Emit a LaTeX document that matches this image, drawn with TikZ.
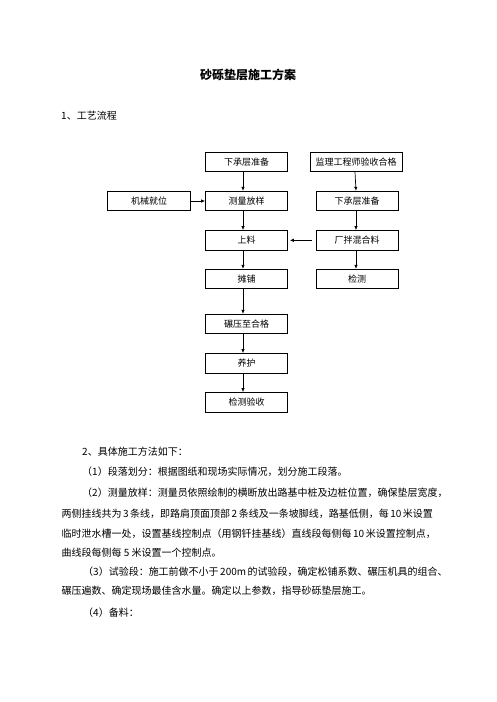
\documentclass[tikz,border=0pt]{standalone}
\usepackage{fontspec}
\newfontfamily\cjk{Noto Sans CJK SC}
\usepackage{tikz}
\usetikzlibrary{arrows.meta}
\XeTeXlinebreaklocale "zh"
\XeTeXlinebreakskip = 0pt plus 1pt

\begin{document}
\begin{tikzpicture}[x=1pt, y=-1pt,
  box/.style={draw, line width=0.8pt, minimum width=82pt, minimum height=19.5pt, inner sep=0pt, font=\cjk\fontsize{9}{10}\selectfont},
  txt/.style={anchor=west, inner sep=0pt, font=\cjk\fontsize{10}{12}\selectfont},
  flow/.style={-{Latex[length=4pt, width=3.5pt]}, line width=0.7pt}]
  \useasboundingbox (0, 0) rectangle (496, 702);

  % title and heading
  \node[font=\cjk\bfseries\fontsize{12}{14}\selectfont] (title) at (248, 75) {砂砾垫层施工方案};
  \node[txt] (head1) at (61, 116) {1、工艺流程};

  % flow chart
  \node[box] (prep) at (246.5, 162) {下承层准备};
  \node[box, minimum width=92pt] (check) at (356, 162) {监理工程师验收合格};
  \node[box, minimum width=83pt] (mach) at (149, 201) {机械就位};
  \node[box] (survey) at (246.5, 201) {测量放样};
  \node[box] (prep2) at (357, 201) {下承层准备};
  \node[box] (feed) at (246.5, 240.3) {上料};
  \node[box] (mix) at (357, 240.3) {厂拌混合料};
  \node[box] (spread) at (246.5, 279) {摊铺};
  \node[box] (test) at (357, 279) {检测};
  \node[box] (roll) at (246.5, 324) {碾压至合格};
  \node[box] (cure) at (246.5, 363.3) {养护};
  \node[box] (accept) at (246.5, 402.3) {检测验收};

  \foreach \a/\b in {prep/survey, survey/feed, feed/spread, spread/roll, roll/cure, cure/accept}
    \draw[flow] ([xshift=-3.5pt]\a.south) -- ([xshift=-3.5pt]\b.north);
  \foreach \a/\b in {check/prep2, prep2/mix, mix/test}
    \draw[flow] ([xshift=-1pt]\a.south) -- ([xshift=-1pt]\b.north);
  \draw[flow] (mach.east) -- (survey.west);
  \draw[flow] ([xshift=-4pt]mix.west) -- ([xshift=2pt]feed.east);

  % text
  \node[txt] (head2) at (82, 452) {2、具体施工方法如下：};
  \node[txt] (par1) at (82, 472) {（1）段落划分：根据图纸和现场实际情况，划分施工段落。};
  \node[txt] (par2a) at (82, 493) {\hbox to 350pt{（2）测量放样：测量员依照绘制的横断放出路基中桩及边桩位置，确保垫层宽度，}};
  \node[txt] (par2b) at (61.5, 514) {\hbox to 370pt{两侧挂线共为 3 条线，即路肩顶面顶部 2 条线及一条坡脚线，路基低侧，每 10 米设置}};
  \node[txt] (par2c) at (61.5, 533.5) {\hbox to 370pt{临时泄水槽一处，设置基线控制点（用钢钎挂基线）直线段每侧每 10 米设置控制点，}};
  \node[txt] (par2d) at (61.5, 553) {曲线段每侧每 5 米设置一个控制点。};
  \node[txt] (par3a) at (83, 572) {\hbox to 348.5pt{（3）试验段：施工前做不小于 200m 的试验段，确定松铺系数、碾压机具的组合、}};
  \node[txt] (par3b) at (61.5, 591) {碾压遍数、确定现场最佳含水量。确定以上参数，指导砂砾垫层施工。};
  \node[txt] (par4) at (83, 613) {（4）备料：};
\end{tikzpicture}
\end{document}
